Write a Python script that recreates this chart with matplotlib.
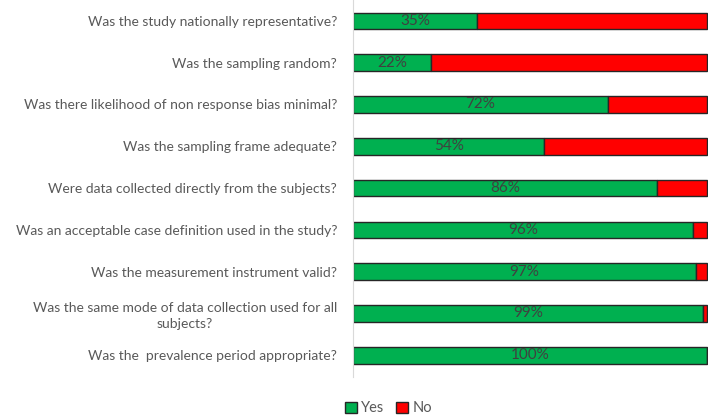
import matplotlib.pyplot as plt
import numpy as np

plt.rcParams['font.family'] = ['Lato', 'DejaVu Sans']

questions = [
    "Was the study nationally representative?",
    "Was the sampling random?",
    "Was there likelihood of non response bias minimal?",
    "Was the sampling frame adequate?",
    "Were data collected directly from the subjects?",
    "Was an acceptable case definition used in the study?",
    "Was the measurement instrument valid?",
    "Was the same mode of data collection used for all\nsubjects?",
    "Was the  prevalence period appropriate?",
]
yes = np.array([35, 22, 72, 54, 86, 96, 97, 99, 100])
no = 100 - yes

fig = plt.figure(figsize=(7.09, 4.2), dpi=100)
ax = fig.add_axes([353 / 709, 43 / 420, 355 / 709, 377 / 420])

y = np.arange(len(questions))
ax.barh(y, yes, height=0.4, color='#00B050', edgecolor='#262626', linewidth=1, label='Yes')
ax.barh(y, no, left=yes, height=0.4, color='#FF0000', edgecolor='#262626', linewidth=1, label='No')

for yi, v in zip(y, yes):
    ax.text(v / 2, yi, f"{v}%", ha='center', va='center', fontsize=11, color='#404040')

ax.set_xlim(0, 100.3)
ax.set_ylim(8.52, -0.5)
ax.set_yticks(y)
ax.set_yticklabels(questions, fontsize=10, color='#595959', multialignment='center',
                   linespacing=1.35)
ax.tick_params(axis='y', length=0, pad=11.5)
ax.set_xticks([])
for s in ['top', 'right', 'bottom']:
    ax.spines[s].set_visible(False)
ax.spines['left'].set_color('#D9D9D9')

fig.legend(loc='lower left', bbox_to_anchor=(332 / 709, -0.02), ncol=2, frameon=False,
           fontsize=10.5, labelcolor='#595959', handlelength=0.8, handleheight=0.8,
           handletextpad=0.3, columnspacing=0.8)

fig.savefig('out.png', dpi=100)
